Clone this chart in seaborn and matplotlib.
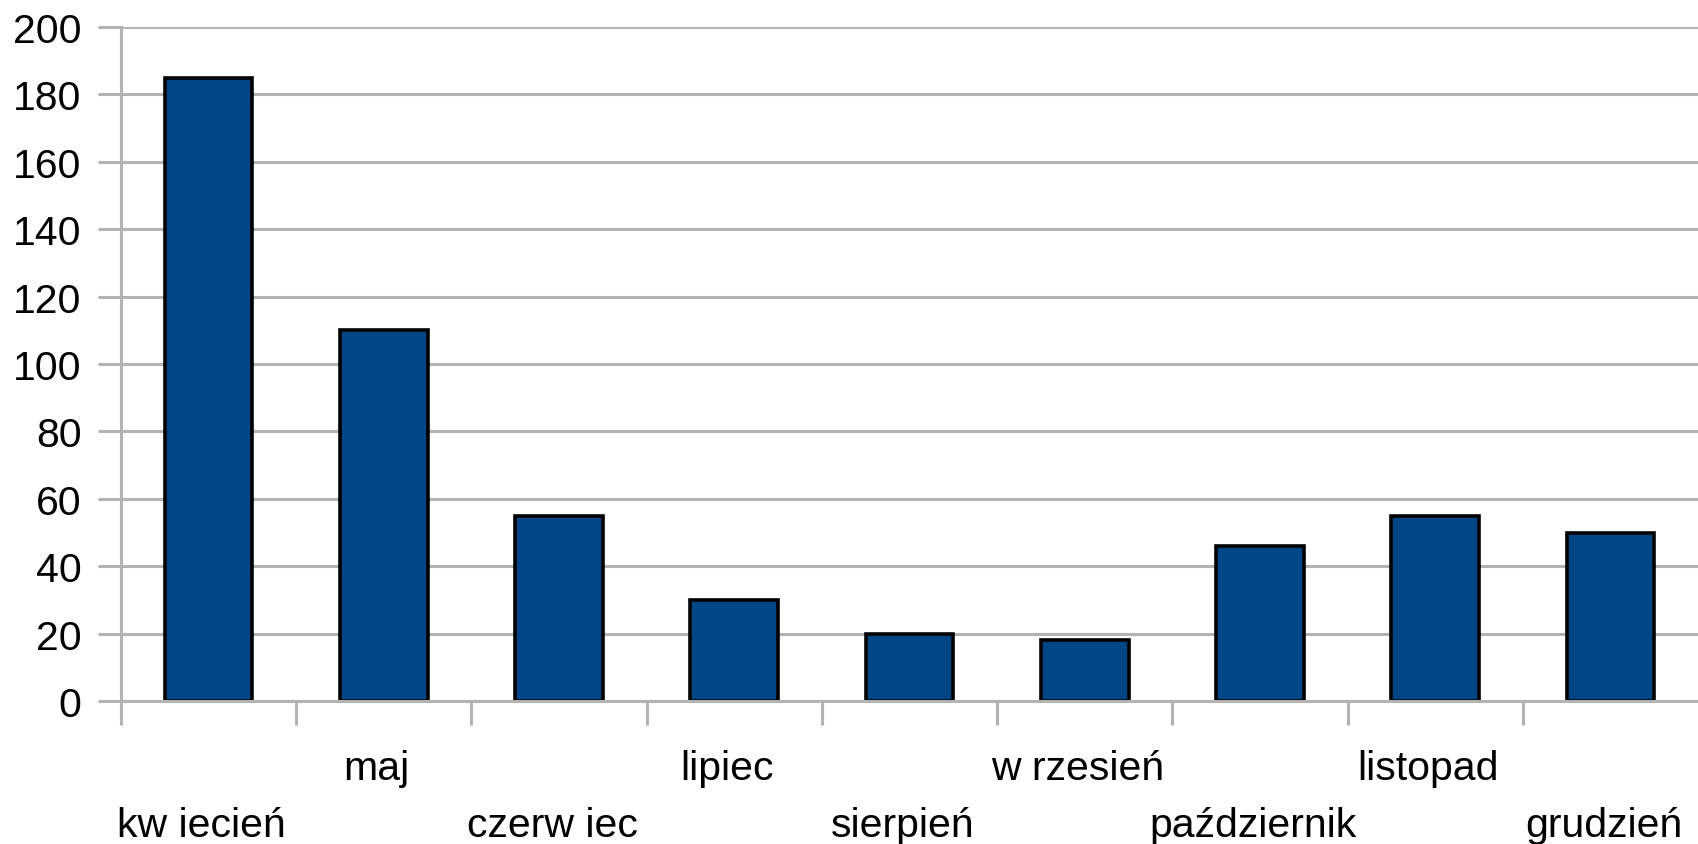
import matplotlib
matplotlib.use("Agg")
import matplotlib.pyplot as plt
import matplotlib.transforms as mtransforms
import seaborn as sns
import pandas as pd

months = ["kw iecień", "maj", "czerw iec", "lipiec", "sierpień",
          "w rzesień", "październik", "listopad", "grudzień"]
values = [185, 110, 55, 30, 20, 18, 46, 55, 50]
yticks = [0, 20, 40, 60, 80, 100, 120, 140, 160, 180, 200]

sns.set_theme(style="white")
plt.rcParams["font.family"] = ["Liberation Sans", "DejaVu Sans"]

GRID = "#b3b3b3"
BAR = "#004586"
FS = 29.5

fig = plt.figure(figsize=(16.98, 8.45), dpi=100)
ax = fig.add_axes([121 / 1698, 1 - 702 / 845, 1 - 121 / 1698, (702 - 28) / 845])

df = pd.DataFrame({"month": months, "value": values})
sns.barplot(data=df, x="month", y="value", order=months, color=BAR,
            saturation=1, width=0.5, edgecolor="black", linewidth=2.6, ax=ax)

ax.set_xlim(-0.5, len(months) - 0.5)
ax.set_ylim(0, 200)
ax.set_yticks(yticks)
ax.set_yticklabels([str(v) for v in yticks], fontsize=FS)
ax.yaxis.grid(True, color=GRID, linewidth=2.2)
ax.set_axisbelow(True)
ax.tick_params(axis="y", left=True, length=16.5, width=2.2, color=GRID,
               pad=12, labelcolor="black", direction="out")

# category boundaries as major x ticks (no labels)
ax.set_xticks([i - 0.5 for i in range(len(months))])
ax.set_xticklabels([])
ax.tick_params(axis="x", bottom=True, length=17.5, width=2.2, color=GRID,
               direction="out")
ax.set_xlabel("")
ax.set_ylabel("")

for s in ["top", "right"]:
    ax.spines[s].set_visible(False)
for s in ["left", "bottom"]:
    ax.spines[s].set_color(GRID)
    ax.spines[s].set_linewidth(2.2)

trans = mtransforms.blended_transform_factory(ax.transData, ax.transAxes)
for i, m in enumerate(months):
    y = -0.1157 if i % 2 == 1 else -0.2003
    ax.text(i - 0.04, y, m, transform=trans, ha="center", va="baseline",
            fontsize=FS, color="black")

fig.savefig("out.png", dpi=100)
